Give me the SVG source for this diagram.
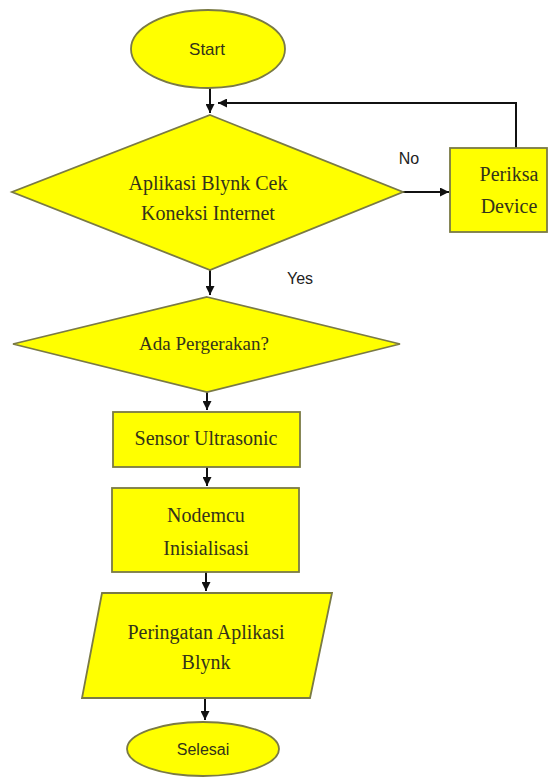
<svg xmlns="http://www.w3.org/2000/svg" width="556" height="778" viewBox="0 0 556 778">
<style>
.shape{fill:#ffff00;stroke:#7a7a45;stroke-width:1.8}
.serif{font-family:"Liberation Serif","Times New Roman",serif;font-size:20px;fill:#33331a;text-anchor:middle}
.sans{font-family:"Liberation Sans",Arial,sans-serif;font-size:17px;fill:#33331a;text-anchor:middle}
.lbl{font-family:"Liberation Sans",Arial,sans-serif;font-size:16px;fill:#222;text-anchor:middle}
.conn{fill:none;stroke:#111;stroke-width:2}
</style>
<defs>
<marker id="arr" viewBox="0 0 10 10" refX="10" refY="5" markerUnits="userSpaceOnUse" markerWidth="9" markerHeight="9" orient="auto">
<path d="M0,0 L10,5 L0,10 z" fill="#111"/>
</marker>
</defs>
<rect width="556" height="778" fill="#ffffff"/>
<g id="connectors">
<line class="conn" x1="210" y1="88" x2="210" y2="113" marker-end="url(#arr)"/>
<line class="conn" x1="210" y1="270" x2="210" y2="295" marker-end="url(#arr)"/>
<line class="conn" x1="207" y1="392" x2="207" y2="410" marker-end="url(#arr)"/>
<line class="conn" x1="207" y1="467" x2="207" y2="486" marker-end="url(#arr)"/>
<line class="conn" x1="206" y1="572" x2="206" y2="591" marker-end="url(#arr)"/>
<line class="conn" x1="205" y1="698" x2="205" y2="720" marker-end="url(#arr)"/>
<line class="conn" x1="403" y1="192" x2="449" y2="192" marker-end="url(#arr)"/>
<polyline class="conn" points="516,148 516,103 218,103" marker-end="url(#arr)"/>
</g>
<g id="label-no"><text class="lbl" x="409" y="164">No</text></g>
<g id="label-yes"><text class="lbl" x="300" y="284">Yes</text></g>
<g id="start">
<ellipse class="shape" cx="208" cy="49" rx="77" ry="39"/>
<text class="sans" x="207" y="55">Start</text>
</g>
<g id="cek-koneksi">
<polygon class="shape" points="210,115 403,192 210,270 12,192"/>
<text class="serif" x="208" y="190">Aplikasi Blynk Cek</text>
<text class="serif" x="208" y="220">Koneksi Internet</text>
</g>
<g id="periksa-device">
<rect class="shape" x="450" y="148" width="97" height="84"/>
<text class="serif" x="509" y="181">Periksa</text>
<text class="serif" x="509" y="213">Device</text>
</g>
<g id="ada-pergerakan">
<polygon class="shape" points="207,297 400,344 207,392 13,344"/>
<text class="serif" x="204" y="350" style="font-size:19px">Ada Pergerakan?</text>
</g>
<g id="sensor-ultrasonic">
<rect class="shape" x="113" y="412" width="187" height="55"/>
<text class="serif" x="206" y="445">Sensor Ultrasonic</text>
</g>
<g id="nodemcu">
<rect class="shape" x="112" y="488" width="187" height="84"/>
<text class="serif" x="206" y="522">Nodemcu</text>
<text class="serif" x="206" y="555">Inisialisasi</text>
</g>
<g id="peringatan">
<polygon class="shape" points="102,593 332,593 310,698 82,698"/>
<text class="serif" x="206" y="639">Peringatan Aplikasi</text>
<text class="serif" x="206" y="669">Blynk</text>
</g>
<g id="selesai">
<ellipse class="shape" cx="203" cy="749" rx="76" ry="27"/>
<text class="sans" x="203" y="755" style="font-size:16px">Selesai</text>
</g>
</svg>
